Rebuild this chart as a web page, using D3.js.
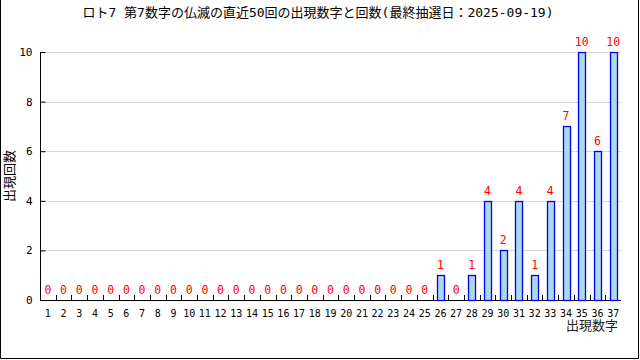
<!DOCTYPE html>
<html>
<head>
<meta charset="utf-8">
<script src="https://cdn.jsdelivr.net/npm/d3@7"></script>
<style>
  body { margin: 0; background: #fff; }
  svg { display: block; }
  .mono { font-family: "DejaVu Sans Mono", "Noto Sans CJK JP", monospace; }
</style>
</head>
<body>
<svg id="chart" width="640" height="360"></svg>
<script>
// numbers 1..37 and how often each came up
const numbers = d3.range(1, 38).map(String);
const counts = [0, 0, 0, 0, 0, 0, 0, 0, 0, 0,
                0, 0, 0, 0, 0, 0, 0, 0, 0, 0,
                0, 0, 0, 0, 0, 1, 0, 1, 4, 2,
                4, 1, 4, 7, 10, 6, 10];
const yTicks = [0, 2, 4, 6, 8, 10];
const title = "ロト7 第7数字の仏滅の直近50回の出現数字と回数(最終抽選日：2025-09-19)";
const xTitle = "出現数字";
const yTitle = "出現回数";

const data = numbers.map((n, i) => ({ n: n, v: counts[i] }));

const margin = {left: 40, top: 52, right: 19, bottom: 60};
const W = 640, H = 360;
const width = W - margin.left - margin.right,
    height = H - margin.top - margin.bottom;

const svg = d3.select("#chart");

// frame round the picture (no top edge)
svg.append("path")
    .attr("d", `M0.5,0 V${H - 1.5} H${W - 1.5} V0`)
    .attr("fill", "none")
    .attr("stroke", "#000")
    .attr("stroke-width", 1);

svg.append("text")
    .attr("class", "mono")
    .attr("x", 318)
    .attr("y", 17)
    .attr("text-anchor", "middle")
    .style("font-size", "13px")
    .text(title);

const g = svg.append("g")
    .attr("transform", `translate(${margin.left},${margin.top})`);

const x = d3.scaleBand()
    .domain(numbers)
    .range([0, width]);
const y = d3.scaleLinear()
    .domain([0, 10])
    .range([height, 0]);

// grid lines
g.selectAll(".grid")
    .data(yTicks.filter(d => d > 0))
    .enter().append("line")
    .attr("class", "grid")
    .attr("x1", 0).attr("x2", width)
    .attr("y1", d => Math.round(y(d)) + 0.5)
    .attr("y2", d => Math.round(y(d)) + 0.5)
    .attr("stroke", "#d8d8d8");

// y axis: ticks pointing inwards
const yAxis = g.append("g")
    .attr("class", "yAxis")
    .attr("transform", "translate(0.5,0)")
    .call(d3.axisRight(y).tickValues(yTicks).tickSize(5).tickFormat(d3.format("d")));
yAxis.select(".domain").attr("d", `M0,${height} V0`);
yAxis.selectAll(".tick text")
    .attr("class", "mono")
    .attr("x", -8)
    .attr("text-anchor", "end")
    .style("font-size", "11px")
    .attr("fill", "#000");

// x axis with small upward ticks between numbers
g.append("line")
    .attr("x1", 0).attr("x2", width)
    .attr("y1", height + 0.5).attr("y2", height + 0.5)
    .attr("stroke", "#000");
g.selectAll(".xtick")
    .data(numbers.slice(1))
    .enter().append("line")
    .attr("class", "xtick")
    .attr("x1", d => Math.round(x(d)) + 0.5)
    .attr("x2", d => Math.round(x(d)) + 0.5)
    .attr("y1", height).attr("y2", height - 5)
    .attr("stroke", "#000");
g.selectAll(".xlabel")
    .data(numbers)
    .enter().append("text")
    .attr("class", "xlabel mono")
    .attr("x", d => x(d) + x.bandwidth() / 2)
    .attr("y", height + 17)
    .attr("text-anchor", "middle")
    .style("font-size", "10px")
    .text(d => d);

// bars
const barW = 7;
g.selectAll(".bar")
    .data(data.filter(d => d.v > 0))
    .enter().append("rect")
    .attr("class", "bar")
    .attr("x", d => Math.round(x(d.n) + x.bandwidth() / 2 - barW / 2) + 0.5)
    .attr("y", d => Math.round(y(d.v)) + 0.5)
    .attr("width", barW)
    .attr("height", d => height - Math.round(y(d.v)))
    .attr("fill", "#add8e6")
    .attr("stroke", "#0000ff")
    .attr("stroke-width", 1.3);

// value labels
g.selectAll(".val")
    .data(data)
    .enter().append("text")
    .attr("class", "val mono")
    .attr("x", d => x(d.n) + x.bandwidth() / 2)
    .attr("y", d => y(d.v) - 6)
    .attr("text-anchor", "middle")
    .attr("fill", "#ff0000")
    .style("font-size", "11.5px")
    .text(d => d.v);

// axis titles
svg.append("text")
    .attr("class", "mono")
    .attr("x", 618)
    .attr("y", 330)
    .attr("text-anchor", "end")
    .style("font-size", "13px")
    .attr("fill", "#222")
    .text(xTitle);

svg.append("text")
    .attr("class", "mono")
    .attr("transform", "translate(14,176) rotate(-90)")
    .attr("text-anchor", "middle")
    .style("font-size", "13px")
    .text(yTitle);
</script>
</body>
</html>
